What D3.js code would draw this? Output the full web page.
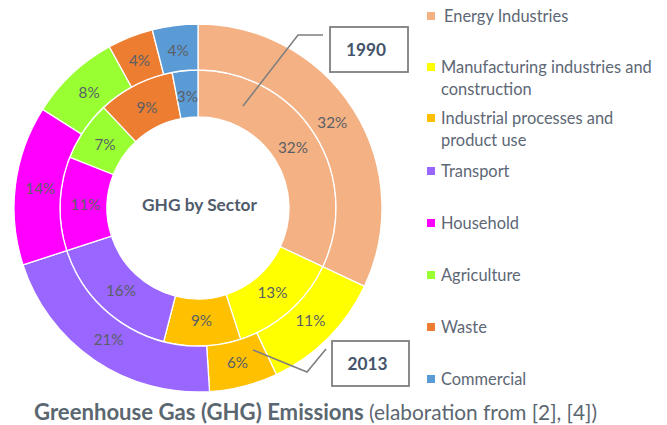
<!DOCTYPE html>
<html>
<head>
<meta charset="utf-8">
<script src="https://cdn.jsdelivr.net/npm/d3@7"></script>
<style>
  html, body { margin: 0; padding: 0; background: #fff; }
  svg { display: block; }
  text { font-family: Lato, "Open Sans", sans-serif; }
</style>
</head>
<body>
<svg id="chart" width="667" height="425"></svg>
<script>
// ---- data ----
const categories = ["Energy Industries", "Manufacturing industries and construction", "Industrial processes and product use", "Transport", "Household", "Agriculture", "Waste", "Commercial"];
const legendLines = [["Energy Industries"], ["Manufacturing industries and", "construction"], ["Industrial processes and", "product use"], ["Transport"], ["Household"], ["Agriculture"], ["Waste"], ["Commercial"]];
const values1990 = [32, 13, 9, 16, 11, 7, 9, 3];
const values2013 = [32, 11, 6, 21, 14, 8, 4, 4];
const years = ["1990", "2013"];
const colors = ["#F4B183", "#FFFF00", "#FFC000", "#9966FF", "#FF00FF", "#99FF33", "#ED7D31", "#5B9BD5"];
const centerTitle = "GHG by Sector";
const titleBold = "Greenhouse Gas (GHG) Emissions";
const titleRest = " (elaboration from [2], [4])";

const svg = d3.select("#chart");
const cx = 198, cy = 208;
const rHole = 91, rMid = 138, rOut = 184;

function fit(sel, target, base) {
  sel.style("font-size", base + "px");
  const w = sel.node().getComputedTextLength();
  const s = base * target / w;
  sel.style("font-size", s + "px");
  return s;
}

const color = d3.scaleOrdinal().domain(categories).range(colors);
const pie = d3.pie().sort(null).value(d => d.v).startAngle(0).endAngle(2 * Math.PI);

const g = svg.append("g").attr("transform", `translate(${cx},${cy})`);

const rings = [
  { data: values1990, inner: rHole, outer: rMid },
  { data: values2013, inner: rMid, outer: rOut }
];

// measure label font size
const probe = svg.append("text").text("32%");
const labelSize = fit(probe, 30, 15);
probe.remove();

rings.forEach(ring => {
  const arcs = pie(ring.data.map((v, i) => ({ v, c: categories[i] })));
  const arc = d3.arc().innerRadius(ring.inner).outerRadius(ring.outer);
  const lab = d3.arc().innerRadius((ring.inner + ring.outer) / 2 - 2).outerRadius((ring.inner + ring.outer) / 2 - 2);
  g.append("g").selectAll("path").data(arcs).join("path")
    .attr("d", arc)
    .attr("fill", d => color(d.data.c))
    .attr("stroke", "#ffffff")
    .attr("stroke-width", 1.3);
  g.append("g").selectAll("text").data(arcs).join("text")
    .attr("transform", d => `translate(${lab.centroid(d)})`)
    .attr("text-anchor", "middle")
    .attr("dy", "0.36em")
    .style("font-size", labelSize + "px")
    .attr("fill", "#5a5f66")
    .text(d => d.data.v + "%");
});

// center text
const ct = g.append("text").attr("x", 1.5).attr("y", -3).attr("dy", "0.36em")
  .attr("text-anchor", "middle").attr("font-weight", "bold").attr("fill", "#4f5b6b")
  .text(centerTitle);
fit(ct, 115, 16);

// callouts
const callouts = [
  { year: years[0], pts: [[243, 106], [298, 35], [323, 35]], box: [330, 27, 78, 45] },
  { year: years[1], pts: [[253, 350], [307, 372], [326, 349]], box: [332, 341, 77, 45] }
];
callouts.forEach(c => {
  svg.append("path").attr("d", d3.line()(c.pts))
    .attr("fill", "none").attr("stroke", "#7f7f7f").attr("stroke-width", 1.6);
  svg.append("rect").attr("x", c.box[0]).attr("y", c.box[1]).attr("width", c.box[2]).attr("height", c.box[3])
    .attr("fill", "#fff").attr("stroke", "#7f7f7f").attr("stroke-width", 1.8);
  const t = svg.append("text").attr("x", c.box[0] + c.box[2] / 2 - 3).attr("y", c.box[1] + c.box[3] / 2)
    .attr("dy", "0.36em").attr("text-anchor", "middle").attr("font-weight", "bold").attr("fill", "#44546A")
    .text(c.year);
  fit(t, 40, 16);
});

// legend
const legendY = [16, 67, 118, 171, 223, 275, 327, 379];
const lp = svg.append("text").text("Manufacturing industries and");
const legSize = fit(lp, 211, 15);
lp.remove();
const leg = svg.append("g");
categories.forEach((c, i) => {
  const y = legendY[i];
  leg.append("rect").attr("x", 427).attr("y", y - 4).attr("width", 8).attr("height", 8).attr("fill", color(c));
  legendLines[i].forEach((line, j) => {
    leg.append("text").attr("x", i === 0 ? 444 : 441).attr("y", y + j * 22).attr("dy", "0.36em")
      .style("font-size", legSize + "px").attr("fill", "#5d6775").text(line);
  });
});

// title
const tt = svg.append("text").attr("x", 34).attr("y", 420).attr("fill", "#5b6770");
const tb = tt.append("tspan").attr("font-weight", "bold").text(titleBold);
const tr = tt.append("tspan").text(titleRest);
// fit bold part
const probeB = svg.append("text").attr("font-weight", "bold").text(titleBold);
const bs = fit(probeB, 330, 18); probeB.remove();
const probeR = svg.append("text").text(titleRest.trim());
const rs = fit(probeR, 228, 16); probeR.remove();
tb.style("font-size", bs + "px");
tr.style("font-size", rs + "px");
</script>
</body>
</html>
